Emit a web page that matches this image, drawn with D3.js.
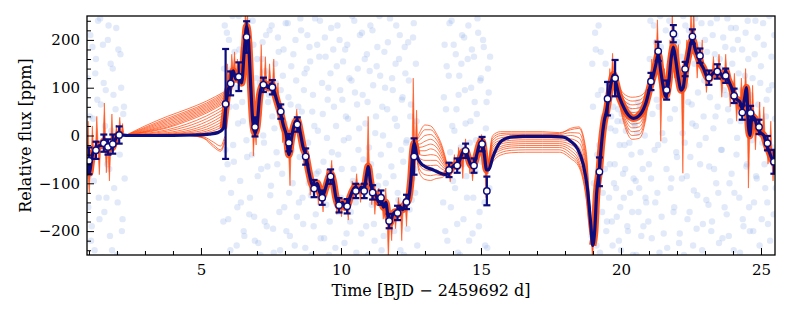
<!DOCTYPE html>
<html>
<head>
<meta charset="utf-8">
<script src="https://cdn.jsdelivr.net/npm/d3@7"></script>
<style>
  body { margin: 0; background: #fff; }
  svg { font-family: "DejaVu Serif", serif; }
</style>
</head>
<body>
<div id="chart"></div>
<script>
// Raw photometry (light blue haze), regular cadence per observing block
const rawBlocks = [
  { start: 0.95, step: 0.05, flux: [120, -85, 210, -190, 35, -240, 160, 75, -130, 245, -20, 190, -160, 95, -60, 230, -210, 10, 140, -110, 55, -250, 180, -40, 100, -175, 60] },
  { start: 0.975, step: 0.05, flux: [-150, 40, -220, 185, -95, 130, -30, 240, -175, 65, -255, 110, 20, -130, 200, -70, 150, -240, 85, -15, 225, -140, 5, 170, -200, 45, -90] },
  { start: 5.75, step: 0.05, flux: [
    15, -180, 230, 90, -60, 200, -240, 140, -20, 175, 60, -150, 250, -95, 120, 30, -210, 185, -45, 215,
    -130, 80, 240, -170, 5, 160, -225, 110, -70, 195, -15, 135, -190, 70, 220, -105, 40, -245, 150, -35,
    205, -160, 95, -80, 180, 25, -200, 235, -120, 65, -30, 170, -230, 115, 10, -140, 245, 50, -185, 130,
    -55, 210, -100, 155, -250, 85, 20, -165, 190, -75, 240, -120, 45, -215, 165, -5, 100, -180, 225, -90,
    60, -235, 145, -40, 200, -130, 75, -10, 180, -205, 35, 120, -160, 250, -70, 90, -245, 140, 15, -115,
    215, -50, 160, -190, 70, -25, 230, -145, 105, -220, 40, 185, -85, 125, -240, 0, 175, -100, 55, -170,
    245, -65, 95, -200, 150, 20, -135, 210, -30, 80, -250, 130, -10, 195, -155, 65, -90, 235, -120, 30] },
  { start: 5.775, step: 0.05, flux: [
    -90, 140, -30, 215, -175, 60, -120, 250, -55, 100, -230, 25, 180, -140, 70, -200, 135, -10, 240, -165,
    95, -40, 190, -220, 120, -85, 45, -250, 160, 0, -180, 210, -65, 85, -125, 230, -195, 15, 110, -60,
    175, -240, 55, 125, -150, 235, -20, 80, -210, 145, -100, 30, 200, -170, 60, -45, 220, -130, 95, -235,
    140, -15, 185, -125, 50, -190, 245, -80, 10, 165, -215, 110, -55, 205, -145, 75, -250, 130, -35, 180,
    -110, 20, 230, -160, 95, -70, 155, -225, 40, 190, -5, -180, 115, -95, 240, -140, 65, -30, 210, -205,
    85, -120, 25, 170, -250, 135, -60, 220, -185, 5, 145, -105, 250, -40, 60, -210, 100, -150, 195, -20,
    -175, 120, -85, 35, 230, -120, 160, -240, 75, -55, 185, -15, -195, 115, 40, -135, 205, -70, 150, -230] },
  { start: 13.65, step: 0.05, flux: [-140, 190, 55, -220, 125, -35, 240, -95, 10, 170, -185, 85, -250, 150, -60, 205, 25, -130, 230, -15, 100, -205, 165, -75, 45, 215, -160, 120, -40, 185, -230, 70, 140, -110] },
  { start: 13.675, step: 0.05, flux: [80, -200, 145, -60, 235, -150, 20, 190, -110, 55, -245, 125, -25, 210, -175, 95, -85, 160, -220, 30, 180, -130, 70, -10, 245, -190, 115, -55, 200, -140, 15, -235, 90, 165] },
  { start: 18.95, step: 0.05, flux: [
    -210, 60, -150, 180, -40, 230, -245, 95, -120, 20, 150, -180, 75, -60, 40, -230, -100, 10, -170, 55,
    -20, -240, 30, -130, -70, 65, -200, -15, 45, -160, -90, 20, -250, 70, -110, -35, 50, -190, 0, -140,
    80, -60, 240, -215, 130, -30, 195, -120, 60, 250, -170, 100, -10, 220, -235, 145, 35, -90, 185, -150,
    210, -45, 120, -205, 165, 5, -250, 230, -85, 70, -160, 195, 25, -115, 245, -195, 90, -20, 155, -240,
    40, 200, -135, 110, -65, 235, -180, 15, 170, -100, 60, -225, 140, -30, 205, -150, 85, 245, -210, 30,
    -80, 180, -120, 225, -5, 130, -245, 95, -175, 50, 215, -60, 160, -200, 10, 120, -140, 240, -90, 65,
    -230, 145, -15, 190, -110, 75, -185, 250, -50, 105, -165, 35] },
  { start: 18.975, step: 0.05, flux: [
    150, -100, 215, -230, 85, -20, 175, -160, 40, -70, -200, 110, -130, 15, -180, 60, -60, -110, 30, -220,
    -150, 45, -80, -20, 10, -190, 55, -120, -40, -250, 25, -95, 5, -160, 60, -210, -70, 35, -130, 90,
    -180, 160, -90, 45, 230, -140, 75, -20, -245, 185, 5, -205, 125, -70, 90, 240, -110, 170, -160, 55,
    -35, 195, -225, 140, -90, 250, -15, 105, -175, 220, -45, 65, -230, 150, 20, -125, 190, -60, 235, -185,
    115, -5, 175, -145, 80, -200, 210, -70, 40, 245, -120, 160, -30, -215, 95, 185, -165, 55, -100, 225,
    150, -240, 70, -40, 200, -130, 30, 180, -190, 125, -65, 240, -150, 85, -10, -200, 170, -85, 205, 15,
    110, -175, 235, -60, 40, -140, 95, -220, 165, -25, 210, -110] }
];

// GP predictive mean (navy line)
const meanT = [0.93, 0.97, 1.02, 1.08, 1.15, 1.25, 1.35, 1.45, 1.53, 1.6, 1.68, 1.75, 1.82, 1.9, 1.98, 2.08, 2.2, 2.4,
  3.0, 4.0, 4.8, 5.3, 5.6, 5.8, 5.88, 5.95, 6.05, 6.15, 6.25, 6.35, 6.45, 6.55, 6.63, 6.7, 6.78, 6.85, 6.93,
  7.0, 7.1, 7.2, 7.3, 7.4, 7.5, 7.6, 7.7, 7.85, 7.95, 8.05, 8.14, 8.22, 8.32, 8.44, 8.55, 8.65, 8.74, 8.85,
  8.95, 9.04, 9.15, 9.25, 9.33, 9.45, 9.55, 9.63, 9.72, 9.82, 9.93, 10.05, 10.15, 10.22, 10.32, 10.42, 10.53,
  10.63, 10.73, 10.83, 10.92, 10.97, 11.05, 11.13, 11.25, 11.35, 11.43, 11.52, 11.6, 11.68, 11.76, 11.85,
  11.95, 12.02, 12.12, 12.2, 12.3, 12.4, 12.5, 12.57, 12.62, 12.7, 12.85, 13.0, 13.3, 13.6, 13.75,
  13.86, 13.95, 14.05, 14.15, 14.25, 14.35, 14.45, 14.55, 14.65, 14.75, 14.85, 14.95, 15.04, 15.12, 15.2,
  15.27, 15.43, 15.67, 15.9, 16.14, 16.5, 17.0, 17.5, 17.9, 18.2, 18.45, 18.65, 18.8, 18.92, 18.99, 19.06,
  19.13, 19.23, 19.3, 19.4, 19.48, 19.55, 19.65, 19.73, 19.82, 19.92, 20.05, 20.2, 20.45, 20.7, 20.9,
  21.05, 21.15, 21.25, 21.33, 21.42, 21.5, 21.6, 21.7, 21.8, 21.87, 21.95, 22.05, 22.15, 22.22, 22.3, 22.4,
  22.5, 22.56, 22.65, 22.75, 22.85, 22.95, 23.05, 23.14, 23.25, 23.35, 23.44, 23.55, 23.65, 23.74, 23.82,
  23.95, 24.04, 24.15, 24.25, 24.33, 24.42, 24.48, 24.55, 24.6, 24.68, 24.78, 24.88, 25.0, 25.1, 25.2,
  25.3, 25.4, 25.5];
const meanY = [-60, -75, -78, -55, -35, -30, -22, -20, -12, -20, -28, -22, -26, -15, -3, 2, 1, 0,
  0, 0, 1, 3, 6, 15, 55, 90, 108, 135, 118, 125, 110, 180, 228, 195, 100, 30, 5,
  20, 85, 105, 108, 100, 108, 95, 75, 45, 20, 0, -40, -10, 20, 32, 5, -25, -40, -75,
  -100, -108, -100, -120, -128, -110, -90, -80, -95, -130, -148, -140, -150, -148, -130, -115, -108,
  -115, -108, -110, -80, -65, -95, -118, -125, -140, -132, -150, -140, -170, -182, -165,
  -160, -165, -150, -155, -142, -135, -90, -30, -16, -40, -58, -65, -72, -80, -82,
  -75, -68, -62, -65, -50, -35, -32, -48, -62, -60, -40, -18, -12, -40, -72,
  -72, -44, -15, -6, -3, -2, -2, -2, -3, -12, -28, -60, -110, -185, -230, -200,
  -121, -70, -20, 30, 50, 75, 110, 127, 110, 85, 65, 48, 36, 45, 70,
  105, 125, 150, 170, 135, 105, 82, 110, 165, 185, 160, 120, 95, 100, 135, 165,
  195, 200, 180, 165, 150, 140, 125, 118, 128, 132, 128, 130, 120, 135, 118,
  100, 82, 75, 70, 55, 80, 100, 20, 0, 40, 35, 15, 5, 0, -20,
  -35, -50, -60];

// Time spans covered by data (orange band drawn there)
const dataSpans = [[0.93, 2.25], [5.85, 12.7], [13.8, 15.25], [19.0, 25.5]];

// GP posterior samples across the gaps (orange fans)
const fans = [
  { t: [2.3, 3.0, 3.8, 4.5, 5.2, 5.85], rows: [
    [0, 20, 40, 55, 72, 92], [0, 17, 36, 51, 68, 89], [0, 15, 33, 48, 65, 86], [0, 13, 30, 45, 62, 83],
    [0, 11, 27, 42, 59, 80], [0, 9, 24, 39, 56, 77], [0, 8, 21, 36, 53, 74], [0, 7, 18, 33, 50, 71],
    [0, 6, 16, 30, 47, 68], [0, 4, 12, 24, 41, 62], [0, 3, 9, 19, 35, 56], [0, 2, 6, 14, 29, 50],
    [0, 1, 4, 10, 23, 44], [0, 1, 3, 7, 18, 38], [0, 0, 2, 5, 13, 32], [0, 0, 1, 3, 9, 26],
    [0, 0, 1, 2, 6, 20], [0, 0, 0, 1, 3, 14]] },
  { t: [4.6, 5.1, 5.45, 5.7, 5.85], rows: [
    [0, -3, -14, -22, -2], [0, -5, -20, -30, -8], [0, -6, -24, -33, -14]] },
  { t: [12.65, 12.8, 13.0, 13.2, 13.4, 13.6, 13.8], rows: [
    [-16, 5, 22, 20, 5, -20, -62], [-16, -2, 12, 12, 0, -25, -64], [-16, -10, 0, 2, -8, -30, -66],
    [-16, -18, -12, -8, -16, -37, -68], [-16, -25, -22, -18, -24, -43, -70], [-16, -32, -32, -28, -33, -50, -72],
    [-16, -40, -42, -40, -42, -57, -74], [-16, -47, -52, -52, -52, -64, -75], [-16, -55, -62, -63, -62, -70, -76],
    [-16, -62, -72, -74, -72, -77, -77], [-16, -70, -82, -84, -82, -84, -78], [-16, -78, -92, -94, -90, -88, -79]] },
  { t: [15.25, 15.42, 15.7, 16.1, 16.6, 17.2, 17.8, 18.2, 18.5, 18.75, 18.9, 19.0], rows: [
    [-72, 0, 8, 8, 8, 8, 6, 12, 15, -40, -160, -230], [-72, -5, 4, 5, 5, 5, 4, 15, 18, -30, -155, -230],
    [-72, -10, 0, 2, 2, 2, 2, 6, 5, -50, -165, -230], [-72, -15, -5, -2, -2, -2, -2, 0, -5, -60, -170, -230],
    [-72, -20, -10, -6, -5, -5, -5, -7, -15, -70, -175, -230], [-72, -25, -14, -10, -9, -9, -9, -13, -25, -80, -180, -230],
    [-72, -30, -18, -14, -13, -13, -13, -19, -35, -90, -185, -230], [-72, -35, -23, -18, -17, -17, -17, -25, -45, -100, -190, -230],
    [-72, -40, -27, -22, -21, -21, -21, -31, -52, -110, -195, -230], [-72, -45, -31, -26, -25, -25, -25, -37, -58, -118, -200, -230],
    [-72, -50, -36, -31, -30, -30, -30, -43, -62, -125, -205, -230], [-72, -55, -41, -36, -35, -35, -35, -48, -66, -130, -210, -230]] },
  { t: [19.8, 19.95, 20.15, 20.4, 20.65, 20.85, 21.05], rows: [
    [120, 100, 85, 80, 82, 90, 108], [120, 96, 78, 72, 74, 84, 108], [120, 92, 71, 64, 66, 78, 108],
    [120, 89, 65, 56, 58, 72, 108], [120, 86, 59, 48, 50, 66, 108], [120, 83, 53, 40, 42, 60, 108],
    [120, 80, 47, 32, 34, 54, 108], [120, 77, 41, 24, 26, 48, 108], [120, 74, 35, 16, 18, 42, 108],
    [120, 71, 29, 8, 10, 36, 108], [120, 68, 23, 0, 2, 30, 108], [120, 65, 17, -8, -6, 24, 108]] }
];

// Sample spikes inside data spans: [time, peak flux]
const spikes = [
  [0.97, 30], [1.01, -122], [1.12, 20], [1.28, 40], [1.37, -82], [1.55, 68], [1.62, -78], [1.73, -95],
  [1.82, 45], [1.98, 22], [2.1, 38], [2.2, 25],
  [5.95, 150], [6.1, 170], [6.2, 175], [6.3, 160], [6.45, 185], [6.58, 255], [6.66, 255], [6.75, 160],
  [6.87, -43], [6.97, -20], [7.15, 190], [7.3, 165], [7.45, 150], [7.6, 160], [7.75, 110], [7.92, -15],
  [8.18, -105], [8.28, 10], [8.42, 55], [8.6, -20], [8.8, -80], [8.9, -125], [9.19, -145], [9.36, -160],
  [9.5, -70], [9.67, -52], [9.85, -165], [10.02, -170], [10.26, -177], [10.4, -95], [10.56, -80],
  [10.7, -140], [10.85, -85], [10.97, 40], [11.1, -145], [11.21, -165], [11.35, -110], [11.51, -175],
  [11.6, -110], [11.69, -260], [11.81, -220], [11.95, -195], [12.05, -130], [12.17, -220], [12.34, -190],
  [12.45, -100], [12.58, 120], [12.7, 53],
  [13.9, -97], [14.05, -40], [14.2, -25], [14.35, -90], [14.45, -7], [14.6, -80], [14.7, -95], [14.9, -5],
  [15.02, 2], [15.1, -60], [15.18, -130],
  [18.98, -265], [19.1, -160], [19.45, 74], [19.6, 140], [19.7, 172], [19.8, 95], [21.1, 160], [21.22, 200],
  [21.3, 242], [21.42, -12], [21.55, 140], [21.75, 200], [21.83, 255], [21.92, 120], [22.05, 190],
  [22.21, -79], [22.35, 200], [22.5, 260], [22.6, 260], [22.72, 120], [22.9, 200], [23.05, 90], [23.3, 165],
  [23.5, 170], [23.6, 80], [23.74, 170], [23.9, 60], [24.05, 130], [24.13, 30], [24.3, 120], [24.45, 140],
  [24.55, -110], [24.7, 105], [24.8, -30], [24.95, 70], [25.1, 60], [25.25, -60], [25.35, 30], [25.43, -95]
];

// Binned data with error bars
const binT = [1.0, 1.25, 1.53, 1.68, 1.85, 2.08, 5.88, 6.06, 6.35, 6.63, 6.93, 7.23, 7.55, 7.85, 8.14, 8.44,
  8.74, 9.04, 9.33, 9.63, 9.93, 10.22, 10.53, 10.83, 11.13, 11.43, 11.72, 12.02, 12.34, 12.61,
  13.86, 14.15, 14.45, 14.75, 15.04, 15.21, 19.23, 19.52, 19.79, 21.07, 21.33, 21.63, 21.87, 22.29,
  22.55, 22.82, 23.14, 23.44, 23.74, 24.04, 24.33, 24.63, 24.93, 25.23, 25.46];
const binY = [-53, -31, -16, -24, -18, 1, 66, 109, 123, 206, 18, 106, 101, 50, -15, 23,
  -44, -111, -130, -86, -146, -148, -116, -116, -119, -130, -179, -162, -139, -44,
  -72, -63, -32, -63, -18, -116, -76, 77, 120, 113, 176, 95, 213, 139,
  207, 167, 121, 134, 125, 83, 48, 47, 18, -16, -55];
const binErr = [28, 18, 18, 16, 20, 18, 115, 25, 30, 33, 20, 15, 15, 15, 18, 15,
  17, 18, 15, 15, 15, 15, 15, 15, 15, 15, 15, 15, 15, 38,
  15, 15, 15, 15, 15, 30, 30, 35, 38, 18, 20, 20, 18, 15,
  15, 15, 15, 15, 15, 15, 15, 15, 15, 15, 25];

const xTicks = [5, 10, 15, 20, 25];
const yTicks = [-200, -100, 0, 100, 200];

const width = 793, height = 317;
const margin = { top: 16, right: 18, bottom: 62, left: 87 };

const svg = d3.select("#chart").append("svg")
  .attr("width", width)
  .attr("height", height);

svg.append("rect").attr("width", width).attr("height", height).attr("fill", "#fff");

const x = d3.scaleLinear().domain([0.93, 25.5]).range([margin.left, width - margin.right]);
const y = d3.scaleLinear().domain([-250, 250]).range([height - margin.bottom, margin.top]);

svg.append("clipPath").attr("id", "plotclip")
  .append("rect")
  .attr("x", margin.left).attr("y", margin.top)
  .attr("width", x.range()[1] - x.range()[0])
  .attr("height", y.range()[0] - y.range()[1]);

const plot = svg.append("g").attr("clip-path", "url(#plotclip)");

// raw points
const raw = rawBlocks.flatMap(b => b.flux.map((f, i) => ({ t: b.start + i * b.step, f })));
plot.append("g").selectAll("circle")
  .data(raw)
  .join("circle")
  .attr("cx", d => x(d.t))
  .attr("cy", d => y(d.f))
  .attr("r", 3.2)
  .attr("fill", "#6d96e3")
  .attr("fill-opacity", 0.2);

const mean = meanT.map((t, i) => ({ t, v: meanY[i] }));
const bis = d3.bisector(d => d.t).left;
function meanAt(t) {
  const i = Math.max(1, Math.min(mean.length - 1, bis(mean, t)));
  const a = mean[i - 1], b = mean[i];
  return a.v + (b.v - a.v) * (t - a.t) / (b.t - a.t);
}

const orange = "#ff4a10";

// fans in gaps
const fanLine = d3.line().x(d => x(d[0])).y(d => y(d[1])).curve(d3.curveMonotoneX);
fans.forEach(f => {
  plot.append("g").selectAll("path")
    .data(f.rows)
    .join("path")
    .attr("d", r => fanLine(r.map((v, i) => [f.t[i], v])))
    .attr("fill", "none")
    .attr("stroke", orange)
    .attr("stroke-opacity", 0.75)
    .attr("stroke-width", 1);
});

// orange band in data spans
const meanLine = d3.line().x(d => x(d.t)).y(d => y(d.v)).curve(d3.curveMonotoneX);
dataSpans.forEach(([a, b]) => {
  plot.append("path")
    .datum(mean.filter(d => d.t >= a - 0.06 && d.t <= b + 0.06))
    .attr("d", meanLine)
    .attr("fill", "none")
    .attr("stroke", orange)
    .attr("stroke-opacity", 0.92)
    .attr("stroke-width", 7.5)
    .attr("stroke-linejoin", "round");
});

// spikes
plot.append("g").selectAll("path")
  .data(spikes)
  .join("path")
  .attr("d", ([t, p]) => {
    const w = 0.05;
    return `M${x(t - w)},${y(meanAt(t - w))}L${x(t)},${y(p)}L${x(t + w)},${y(meanAt(t + w))}Z`;
  })
  .attr("fill", orange)
  .attr("fill-opacity", 0.9)
  .attr("stroke", orange)
  .attr("stroke-width", 0.7)
  .attr("stroke-opacity", 0.8);

// mean line
const navy = "#0c0c7c";
plot.append("path")
  .datum(mean)
  .attr("d", meanLine)
  .attr("fill", "none")
  .attr("stroke", navy)
  .attr("stroke-width", 3.2)
  .attr("stroke-linejoin", "round");

// binned points
const bins = binT.map((t, i) => ({ t, v: binY[i], e: binErr[i] }));
const bg = plot.append("g");
bg.selectAll("line.err")
  .data(bins)
  .join("line")
  .attr("x1", d => x(d.t)).attr("x2", d => x(d.t))
  .attr("y1", d => y(d.v - d.e)).attr("y2", d => y(d.v + d.e))
  .attr("stroke", navy).attr("stroke-width", 2.2);
[-1, 1].forEach(s => {
  bg.append("g").selectAll("line")
    .data(bins)
    .join("line")
    .attr("x1", d => x(d.t) - 3.5).attr("x2", d => x(d.t) + 3.5)
    .attr("y1", d => y(d.v + s * d.e)).attr("y2", d => y(d.v + s * d.e))
    .attr("stroke", navy).attr("stroke-width", 2.2);
});
bg.selectAll("circle")
  .data(bins)
  .join("circle")
  .attr("cx", d => x(d.t)).attr("cy", d => y(d.v))
  .attr("r", 3.2)
  .attr("fill", "#fff")
  .attr("stroke", navy)
  .attr("stroke-width", 1.4);

// axes, ticks inward
const x0 = margin.left, y0 = height - margin.bottom;
const xMinor = d3.range(1, 26).filter(v => v % 5 !== 0);
const yMinor = d3.range(-240, 250, 20).filter(v => v % 100 !== 0);

svg.append("g")
  .attr("transform", `translate(0,${y0})`)
  .call(d3.axisBottom(x).tickValues(xMinor).tickSizeInner(-4).tickSizeOuter(0).tickFormat(""))
  .call(g => g.select(".domain").remove());
svg.append("g")
  .attr("transform", `translate(0,${y0})`)
  .call(d3.axisBottom(x).tickValues(xTicks).tickSizeInner(-7).tickSizeOuter(0).tickPadding(9))
  .call(g => g.attr("font-family", "DejaVu Serif").attr("font-size", 15))
  .call(g => g.select(".domain").remove())
  .call(g => g.selectAll("text").attr("fill", "#000"));

svg.append("g")
  .attr("transform", `translate(${x0},0)`)
  .call(d3.axisLeft(y).tickValues(yMinor).tickSizeInner(-4).tickSizeOuter(0).tickFormat(""))
  .call(g => g.select(".domain").remove());
svg.append("g")
  .attr("transform", `translate(${x0},0)`)
  .call(d3.axisLeft(y).tickValues(yTicks).tickSizeInner(-7).tickSizeOuter(0).tickPadding(7))
  .call(g => g.attr("font-family", "DejaVu Serif").attr("font-size", 15))
  .call(g => g.select(".domain").remove())
  .call(g => g.selectAll("text").attr("fill", "#000"));

svg.selectAll(".tick line").attr("stroke", "#000").attr("stroke-width", 1);

svg.append("rect")
  .attr("x", margin.left).attr("y", margin.top)
  .attr("width", x.range()[1] - x.range()[0])
  .attr("height", y.range()[0] - y.range()[1])
  .attr("fill", "none")
  .attr("stroke", "#000")
  .attr("stroke-width", 1.3);

svg.append("text")
  .attr("x", (x.range()[0] + x.range()[1]) / 2)
  .attr("y", 296)
  .attr("text-anchor", "middle")
  .attr("font-size", 16)
  .text("Time [BJD \u2212 2459692 d]");

svg.append("text")
  .attr("transform", `translate(31,${(y.range()[0] + y.range()[1]) / 2}) rotate(-90)`)
  .attr("text-anchor", "middle")
  .attr("font-size", 16)
  .text("Relative flux [ppm]");
</script>
</body>
</html>
